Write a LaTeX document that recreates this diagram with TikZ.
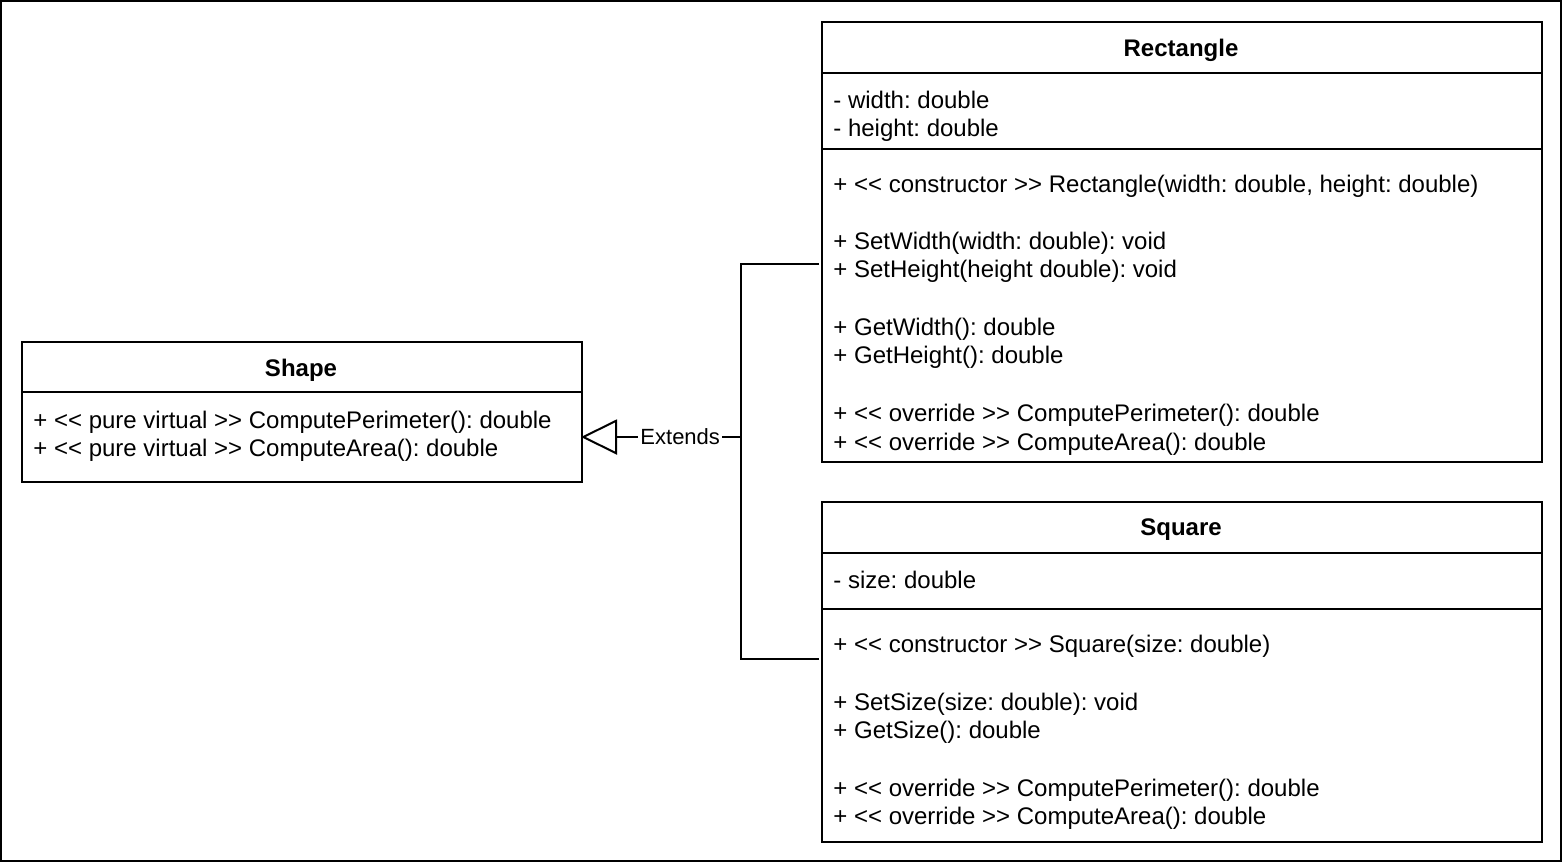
\documentclass[tikz,border=0pt]{standalone}
\usepackage{fontspec}
\setmainfont{Liberation Sans}[Ligatures=TeXOff]
\usetikzlibrary{arrows.meta}
\frenchspacing
\begin{document}
\begin{tikzpicture}[x=0.5pt,y=-0.5pt,
  classbox/.style={draw,line width=1pt,inner sep=0pt,anchor=north west},
  classname/.style={font=\fontsize{12}{14}\selectfont\bfseries},
  member/.style={anchor=west,inner sep=0pt,font=\fontsize{12}{14}\selectfont,text height=8.6pt,text depth=2.5pt},
  divider/.style={line width=1pt}]

\useasboundingbox (0,0) rectangle (1562,862);
\draw[line width=1pt] (1,1) rectangle (1561,861);

%% Shape
\node (shape) at (21,341) [classbox,minimum width=280pt,minimum height=70pt] {};
\node (shapename) at (301,370) [classname] {Shape};
\draw[divider] (21,392) -- (581,392);
\node (shapeop1) at (33,422) [member] {+ << pure virtual >> ComputePerimeter(): double};
\node (shapeop2) at (33,450) [member] {+ << pure virtual >> ComputeArea(): double};

%% Rectangle
\node (rect) at (821,21) [classbox,minimum width=360pt,minimum height=220pt] {};
\node (rectname) at (1181,50) [classname] {Rectangle};
\draw[divider] (821,73) -- (1541,73);
\node (rectat1) at (833,102) [member] {- width: double};
\node (rectat2) at (833,130) [member] {- height: double};
\draw[divider] (821,149) -- (1541,149);
\node (rectop1) at (833,186) [member] {+ << constructor >> Rectangle(width: double, height: double)};
\node (rectop2) at (833,243) [member] {+ SetWidth(width: double): void};
\node (rectop3) at (833,271) [member] {+ SetHeight(height double): void};
\node (rectop4) at (833,329) [member] {+ GetWidth(): double};
\node (rectop5) at (833,357) [member] {+ GetHeight(): double};
\node (rectop6) at (833,415) [member] {+ << override >> ComputePerimeter(): double};
\node (rectop7) at (833,444) [member] {+ << override >> ComputeArea(): double};

%% Square
\node (square) at (821,501) [classbox,minimum width=360pt,minimum height=170pt] {};
\node (squarename) at (1181,530) [classname] {Square};
\draw[divider] (821,553) -- (1541,553);
\node (squareat1) at (833,582) [member] {- size: double};
\draw[divider] (821,609) -- (1541,609);
\node (squareop1) at (833,646) [member] {+ << constructor >> Square(size: double)};
\node (squareop2) at (833,704) [member] {+ SetSize(size: double): void};
\node (squareop3) at (833,732) [member] {+ GetSize(): double};
\node (squareop4) at (833,790) [member] {+ << override >> ComputePerimeter(): double};
\node (squareop5) at (833,818) [member] {+ << override >> ComputeArea(): double};

%% Extends
\coordinate (rectin) at (819,264);
\coordinate (squarein) at (819,659);
\coordinate (fork) at (741,437);
\coordinate (shapein) at (581,437);
\draw[line width=1pt] (rectin) -| (fork);
\draw[line width=1pt] (squarein) -| (fork);
\draw[line width=1pt,-{Triangle[open,length=18pt,width=17.5pt]}] (fork) -- node[pos=0.38,fill=white,inner sep=1pt,font=\fontsize{11}{13}\selectfont] (extends) {Extends} (shapein);

\end{tikzpicture}
\end{document}
